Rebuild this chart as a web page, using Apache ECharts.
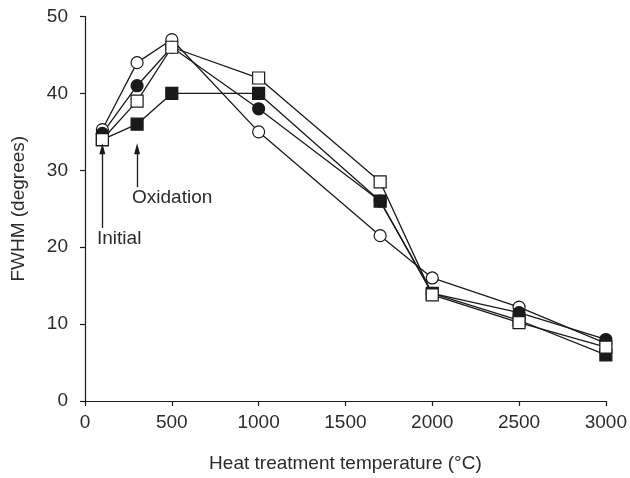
<!DOCTYPE html>
<html>
<head>
<meta charset="utf-8">
<script src="https://cdn.jsdelivr.net/npm/echarts@6/dist/echarts.min.js"></script>
<style>
html,body{margin:0;padding:0;background:#fff;}
#main{width:630px;height:478px;}
</style>
</head>
<body>
<div id="main"></div>
<script>
// Heat treatment temperatures (°C)
const temps = [100, 300, 500, 1000, 1700, 2000, 2500, 3000];
// FWHM (degrees) per series
const openCircle   = [35.3, 44.0, 47.0, 35.0, 21.5, 16.0, 12.2, 7.5];
const filledCircle = [34.8, 41.0, 46.0, 38.0, 26.0, 14.0, 11.5, 8.0];
const filledSquare = [34.0, 36.0, 40.0, 40.0, 26.0, 14.0, 10.5, 6.0];
const openSquare   = [34.0, 39.0, 46.0, 42.0, 28.5, 13.8, 10.2, 7.0];
const xTicks = [0, 500, 1000, 1500, 2000, 2500, 3000];
const yTicks = [0, 10, 20, 30, 40, 50];

const font = 'Liberation Sans, Arial, Helvetica, sans-serif';
const fs = 19;
const ink = '#1a1a1a';
const textCol = '#2b2b2b';

function pairs(vals){ return temps.map((t,i)=>[t, vals[i]]); }

function mkSeries(name, vals, symbol, fill){
  return {
    name: name,
    type: 'line',
    data: pairs(vals),
    symbol: symbol,
    symbolSize: 12,
    showAllSymbol: true,
    lineStyle: {color: ink, width: 1.3},
    itemStyle: {color: fill, borderColor: ink, borderWidth: 1.2},
    emphasis: {disabled: true},
    z: 3
  };
}

const chart = echarts.init(document.getElementById('main'), null, {renderer: 'canvas'});
const option = {
  animation: false,
  backgroundColor: '#fff',
  grid: {left: 85, right: 23, top: 16.5, bottom: 76.5},
  xAxis: {
    type: 'value', min: xTicks[0], max: xTicks[xTicks.length-1], interval: 500,
    name: 'Heat treatment temperature (°C)',
    nameLocation: 'middle', nameGap: 53,
    nameTextStyle: {fontFamily: font, fontSize: fs, color: textCol},
    axisLine: {lineStyle: {color: ink, width: 1.2}},
    axisTick: {inside: false, length: 5, lineStyle: {color: ink, width: 1.2}},
    axisLabel: {fontFamily: font, fontSize: fs, color: textCol, margin: 12,
      formatter: v => String(v)},
    splitLine: {show: false}
  },
  yAxis: {
    type: 'value', min: yTicks[0], max: yTicks[yTicks.length-1], interval: 10,
    name: 'FWHM (degrees)',
    nameLocation: 'middle', nameGap: 57,
    nameTextStyle: {fontFamily: font, fontSize: fs, color: textCol},
    axisLine: {show: true, lineStyle: {color: ink, width: 1.2}},
    axisTick: {show: true, inside: false, length: 5, lineStyle: {color: ink, width: 1.2}},
    axisLabel: {fontFamily: font, fontSize: fs, color: textCol, margin: 17,
      formatter: v => String(v)},
    splitLine: {show: false}
  },
  series: [
    mkSeries('open circle', openCircle, 'circle', '#ffffff'),
    mkSeries('filled circle', filledCircle, 'circle', ink),
    mkSeries('filled square', filledSquare, 'rect', ink),
    Object.assign(mkSeries('open square', openSquare, 'rect', '#ffffff'), {
      markLine: {
        silent: true,
        symbol: ['none', 'triangle'],
        symbolSize: [6, 11],
        lineStyle: {color: ink, width: 1.3, type: 'solid'},
        label: {show: false},
        data: [
          [{coord: [100, 22.5]}, {coord: [100, 32.8]}],
          [{coord: [300, 27.8]}, {coord: [300, 32.8]}]
        ]
      }
    })
  ],
  graphic: [
    {type: 'text', left: 97, top: 229, style: {text: 'Initial', font: fs + 'px ' + font, fill: textCol}},
    {type: 'text', left: 132, top: 188, style: {text: 'Oxidation', font: fs + 'px ' + font, fill: textCol}}
  ]
};
chart.setOption(option);
</script>
</body>
</html>
